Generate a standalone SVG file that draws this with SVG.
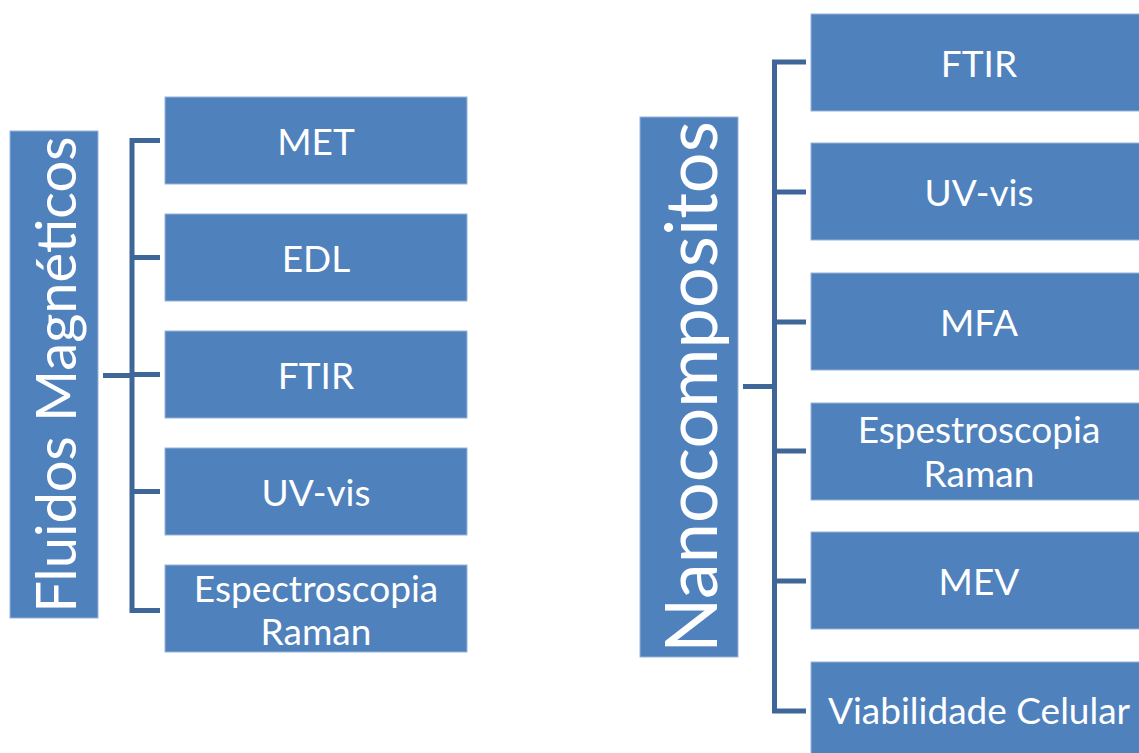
<svg xmlns="http://www.w3.org/2000/svg" width="1139" height="753" viewBox="0 0 1139 753">
<style>
.box{fill:#4F81BD;stroke:#95B3D7;stroke-width:1}
.t{font-family:Lato,"Open Sans",sans-serif;fill:#fff;text-anchor:middle;dominant-baseline:central}
.s{font-size:37px}
.line{fill:none;stroke:#3F6699;stroke-width:5;stroke-linejoin:miter}
</style>
<rect width="1139" height="753" fill="#fff"/>
<g id="connectors">
<path class="line" d="M103,375.5H132M160,140.5H132V610.5H160M132,257.5H160M132,374.5H160M132,491.5H160"/>
<path class="line" d="M743,386.5H774.5M806,62H774.5V711H806M774.5,192H806M774.5,322H806M774.5,451H806M774.5,581H806"/>
</g>
<g id="fluidos">
<rect class="box" x="10" y="131" width="88" height="487"/>
<text class="t" transform="translate(54,374.5) rotate(-90)" font-size="56">Fluidos Magnéticos</text>
</g>
<g id="met"><rect class="box" x="165" y="97" width="302" height="87"/><text class="t s" x="316" y="140">MET</text></g>
<g id="edl"><rect class="box" x="165" y="214" width="302" height="87"/><text class="t s" x="316" y="257">EDL</text></g>
<g id="ftir1"><rect class="box" x="165" y="331" width="302" height="87"/><text class="t s" x="316" y="374">FTIR</text></g>
<g id="uvvis1"><rect class="box" x="165" y="448" width="302" height="87"/><text class="t s" x="316" y="491">UV-vis</text></g>
<g id="raman1"><rect class="box" x="165" y="565" width="302" height="87"/><text class="t s" x="316" y="587">Espectroscopia</text><text class="t s" x="316" y="630">Raman</text></g>
<g id="nano">
<rect class="box" x="640" y="117" width="98" height="540"/>
<text class="t" transform="translate(689,387) rotate(-90)" font-size="72">Nanocompositos</text>
</g>
<g id="ftir2"><rect class="box" x="811" y="14" width="340" height="97"/><text class="t s" x="979" y="62">FTIR</text></g>
<g id="uvvis2"><rect class="box" x="811" y="143" width="340" height="97"/><text class="t s" x="979" y="191">UV-vis</text></g>
<g id="mfa"><rect class="box" x="811" y="273" width="340" height="97"/><text class="t s" x="979" y="321">MFA</text></g>
<g id="raman2"><rect class="box" x="811" y="403" width="340" height="97"/><text class="t s" x="979" y="428">Espestroscopia</text><text class="t s" x="979" y="472">Raman</text></g>
<g id="mev"><rect class="box" x="811" y="532" width="340" height="97"/><text class="t s" x="979" y="580">MEV</text></g>
<g id="viab"><rect class="box" x="811" y="662" width="340" height="97"/><text class="t s" x="979" y="709">Viabilidade Celular</text></g>
</svg>
